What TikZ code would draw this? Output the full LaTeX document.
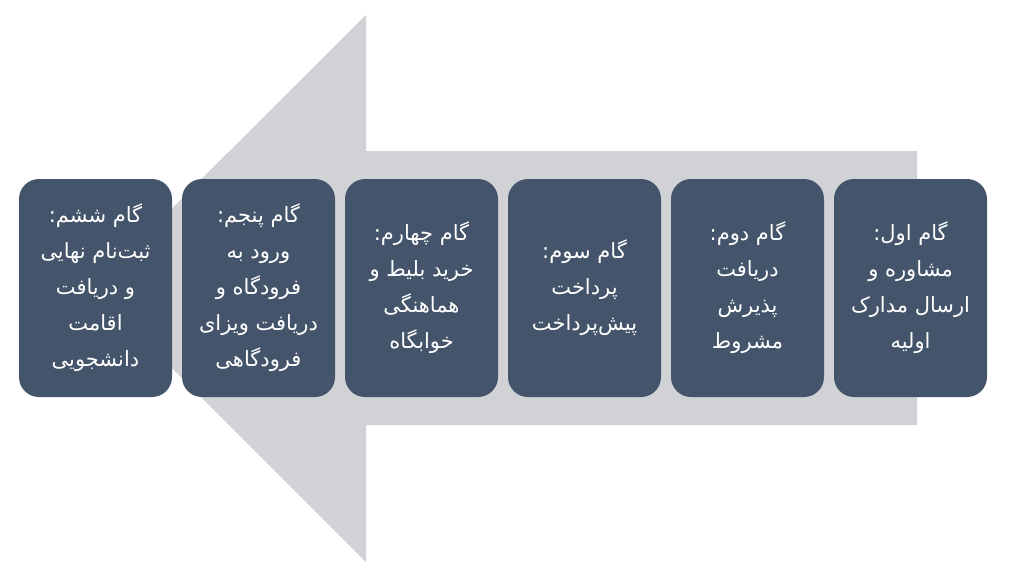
\documentclass[tikz,border=0pt]{standalone}
\usepackage{fontspec}
\TeXXeTstate=1
\newfontfamily\arabicfont[Script=Arabic]{DejaVu Sans}
\usetikzlibrary{positioning}
\definecolor{gamblue}{RGB}{68,84,106}
\definecolor{arrowgray}{RGB}{208,210,213}

\begin{document}
\begin{tikzpicture}[x=1pt,y=-1pt]
            \tikzset{
              gam/.style={rectangle, rounded corners=20pt, fill=gamblue,
                minimum width=153pt, minimum height=218pt, inner sep=0pt,
                text=white, align=center,
                font=\arabicfont\fontsize{21}{36}\selectfont},
              node distance=9.6pt,
            }
            \useasboundingbox (0,0) rectangle (1024,576);
            % big arrow behind the steps
            \fill[arrowgray] (917,151) -- (366,151) -- (366,15) -- (92,288)
              -- (366,562) -- (366,425) -- (917,425) -- cycle;
            \node[gam] (gam1) at (910.5,288)
              {\beginR گام اول:\endR\\\beginR مشاوره و\endR\\\beginR ارسال مدارک\endR\\\beginR اولیه\endR};
            \node[gam, left=of gam1] (gam2)
              {\beginR گام دوم:\endR\\\beginR دریافت\endR\\\beginR پذیرش\endR\\\beginR مشروط\endR};
            \node[gam, left=of gam2] (gam3)
              {\beginR گام سوم:\endR\\\beginR پرداخت\endR\\\beginR پیش‌پرداخت\endR};
            \node[gam, left=of gam3] (gam4)
              {\beginR گام چهارم:\endR\\\beginR خرید بلیط و\endR\\\beginR هماهنگی\endR\\\beginR خوابگاه\endR};
            \node[gam, left=of gam4] (gam5)
              {\beginR گام پنجم:\endR\\\beginR ورود به\endR\\\beginR فرودگاه و\endR\\\beginR دریافت ویزای\endR\\\beginR فرودگاهی\endR};
            \node[gam, left=of gam5] (gam6)
              {\beginR گام ششم:\endR\\\beginR ثبت‌نام نهایی\endR\\\beginR و دریافت\endR\\\beginR اقامت\endR\\\beginR دانشجویی\endR};
          \end{tikzpicture}
\end{document}
